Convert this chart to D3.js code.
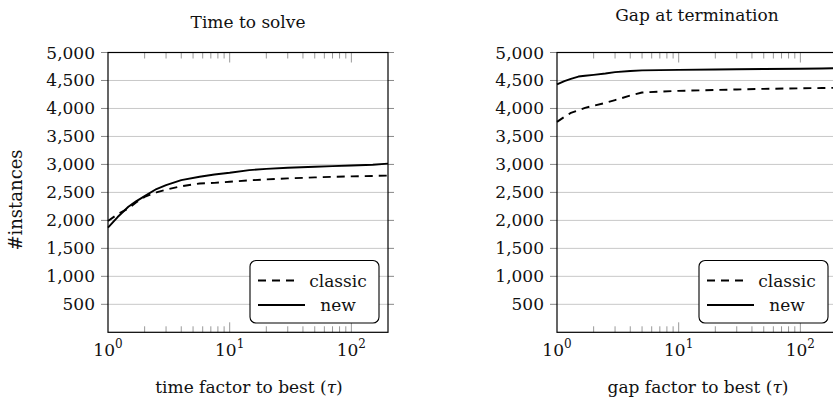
<!DOCTYPE html>
<html lang="en">
<head>
	<meta charset="UTF-8">
	<title>Performance profiles</title>
	<script src="https://cdn.jsdelivr.net/npm/d3@7"></script>
	<style>
		body {
			margin: 0;
			background: #ffffff;
		}

		svg {
			font-family: "DejaVu Serif", "Liberation Serif", serif;
			fill: #111;
		}

		.grid line {
			stroke: #c8c8c8;
			stroke-width: 1px;
		}

		.tick-out line {
			stroke: #888;
			stroke-width: 1px;
		}

		.minor line {
			stroke: #999;
			stroke-width: 1px;
		}

		.frame {
			fill: none;
			stroke: #000;
			stroke-width: 1.2px;
		}

		.curve {
			fill: none;
			stroke: #000;
			stroke-width: 1.9px;
			stroke-linejoin: round;
		}

		.dashed {
			stroke-dasharray: 8, 6;
		}
	</style>
</head>
<body>

<script>
	var width = 833,
		height = 399;

	// tau values (x positions)
	var timeTau = [1, 1.2, 1.47, 1.7, 2, 2.5, 3, 4, 5.66, 7.5, 10, 14.5, 20, 30, 50, 70, 100, 150, 200];
	var timeClassic = [1990, 2110, 2215, 2320, 2420, 2500, 2550, 2610, 2660, 2671, 2690, 2715, 2732, 2750, 2768, 2779, 2786, 2794, 2800];
	var timeNew = [1870, 2060, 2243, 2340, 2434, 2560, 2630, 2720, 2779, 2821, 2850, 2898, 2920, 2940, 2958, 2970, 2980, 2995, 3015];

	var gapTau = [1, 1.15, 1.3, 1.5, 1.7, 2, 2.5, 3, 4, 5, 7, 10, 20, 30, 50, 100, 150, 200];
	var gapClassic = [3760, 3850, 3920, 3970, 4010, 4050, 4100, 4150, 4230, 4285, 4300, 4315, 4330, 4340, 4350, 4360, 4365, 4370];
	var gapNew = [4430, 4490, 4530, 4570, 4585, 4600, 4625, 4650, 4670, 4680, 4685, 4690, 4695, 4700, 4705, 4710, 4715, 4720];

	var yTicks = [500, 1000, 1500, 2000, 2500, 3000, 3500, 4000, 4500, 5000];
	var xMajor = [1, 10, 100];
	var xMinor = [2, 3, 4, 5, 6, 7, 8, 9, 20, 30, 40, 50, 60, 70, 80, 90];
	var seriesNames = ["classic", "new"];

	var panels = [
		{title: "Time to solve", titleY: 28, xlabel: "time factor to best", left: 108, tau: timeTau, classic: timeClassic, fresh: timeNew, yLabel: true},
		{title: "Gap at termination", titleY: 21, xlabel: "gap factor to best", left: 557, tau: gapTau, classic: gapClassic, fresh: gapNew, yLabel: false}
	];

	var plotW = 280,
		plotTop = 52.5,
		plotBottom = 332.3;

	var fmt = d3.format(",");

	var svg = d3.select("body").append("svg")
		.attr("width", width)
		.attr("height", height);

	panels.forEach(function (p) {
		var x = d3.scaleLog()
			.domain([1, 200])
			.range([p.left, p.left + plotW]);
		var y = d3.scaleLinear()
			.domain([0, 5000])
			.range([plotBottom, plotTop]);

		var g = svg.append("g");

		// horizontal grid
		g.append("g").attr("class", "grid")
			.selectAll("line")
			.data(yTicks)
			.enter().append("line")
			.attr("x1", x(1)).attr("x2", x(200))
			.attr("y1", function (d) { return y(d); })
			.attr("y2", function (d) { return y(d); });

		// outward y ticks on both sides
		var yo = g.append("g").attr("class", "tick-out");
		yo.selectAll(".l").data(yTicks).enter().append("line")
			.attr("x1", x(1) - 7).attr("x2", x(1))
			.attr("y1", function (d) { return y(d); })
			.attr("y2", function (d) { return y(d); });
		yo.selectAll(".r").data(yTicks).enter().append("line")
			.attr("x1", x(200)).attr("x2", x(200) + 6)
			.attr("y1", function (d) { return y(d); })
			.attr("y2", function (d) { return y(d); });

		// y tick labels
		g.append("g")
			.selectAll("text")
			.data(yTicks)
			.enter().append("text")
			.attr("x", x(1) - 13)
			.attr("y", function (d) { return y(d) + 6; })
			.attr("text-anchor", "end")
			.style("font-size", "17px")
			.text(function (d) { return fmt(d); });

		// x minor / major ticks (inside, top and bottom)
		var xt = g.append("g").attr("class", "minor");
		var allX = xMinor.map(function (d) { return {v: d, len: 6}; })
			.concat([{v: 10, len: 10}, {v: 100, len: 10}]);
		xt.selectAll(".b").data(allX).enter().append("line")
			.attr("x1", function (d) { return x(d.v); })
			.attr("x2", function (d) { return x(d.v); })
			.attr("y1", plotBottom)
			.attr("y2", function (d) { return plotBottom - d.len; });
		xt.selectAll(".t").data(allX).enter().append("line")
			.attr("x1", function (d) { return x(d.v); })
			.attr("x2", function (d) { return x(d.v); })
			.attr("y1", plotTop)
			.attr("y2", function (d) { return plotTop + d.len; });

		// x tick labels 10^k
		var xl = g.append("g")
			.selectAll("text")
			.data(xMajor)
			.enter().append("text")
			.attr("x", function (d) { return x(d); })
			.attr("y", 356)
			.attr("text-anchor", "middle")
			.style("font-size", "17px");
		xl.append("tspan").text("10");
		xl.append("tspan")
			.attr("dy", -8)
			.style("font-size", "12px")
			.text(function (d) { return Math.round(Math.log10(d)); });

		// curves
		var line = d3.line()
			.x(function (d) { return x(d[0]); })
			.y(function (d) { return y(d[1]); });

		g.append("path")
			.datum(p.tau.map(function (t, i) { return [t, p.classic[i]]; }))
			.attr("class", "curve dashed")
			.attr("d", line);
		g.append("path")
			.datum(p.tau.map(function (t, i) { return [t, p.fresh[i]]; }))
			.attr("class", "curve")
			.attr("d", line);

		// frame
		g.append("rect")
			.attr("class", "frame")
			.attr("x", x(1))
			.attr("y", plotTop)
			.attr("width", plotW)
			.attr("height", plotBottom - plotTop);

		// legend
		var lx = x(1) + 142,
			ly = 260.5;
		var lg = g.append("g").attr("transform", "translate(" + lx + "," + ly + ")");
		lg.append("rect")
			.attr("width", 129)
			.attr("height", 62.5)
			.attr("rx", 6)
			.attr("fill", "#fff")
			.attr("stroke", "#000")
			.attr("stroke-width", 1.1);
		seriesNames.forEach(function (name, i) {
			var cy = 20 + i * 24.5;
			lg.append("line")
				.attr("class", i === 0 ? "curve dashed" : "curve")
				.attr("x1", 8).attr("x2", i === 0 ? 50 : 55)
				.attr("y1", cy).attr("y2", cy);
			lg.append("text")
				.attr("x", 88)
				.attr("y", cy + 6)
				.attr("text-anchor", "middle")
				.style("font-size", "17px")
				.text(name);
		});

		// titles
		g.append("text")
			.attr("x", x(1) + plotW / 2)
			.attr("y", p.titleY)
			.attr("text-anchor", "middle")
			.style("font-size", "17px")
			.text(p.title);

		var xa = g.append("text")
			.attr("x", x(1) + plotW / 2 + 1)
			.attr("y", 393)
			.attr("text-anchor", "middle")
			.style("font-size", "17px");
		xa.append("tspan").text(p.xlabel + " (");
		xa.append("tspan").style("font-style", "italic").text("τ");
		xa.append("tspan").text(")");

		if (p.yLabel) {
			g.append("text")
				.attr("transform", "translate(22,200) rotate(-90)")
				.attr("text-anchor", "middle")
				.style("font-size", "18px")
				.text("#instances");
		}
	});
</script>

</body>
</html>
